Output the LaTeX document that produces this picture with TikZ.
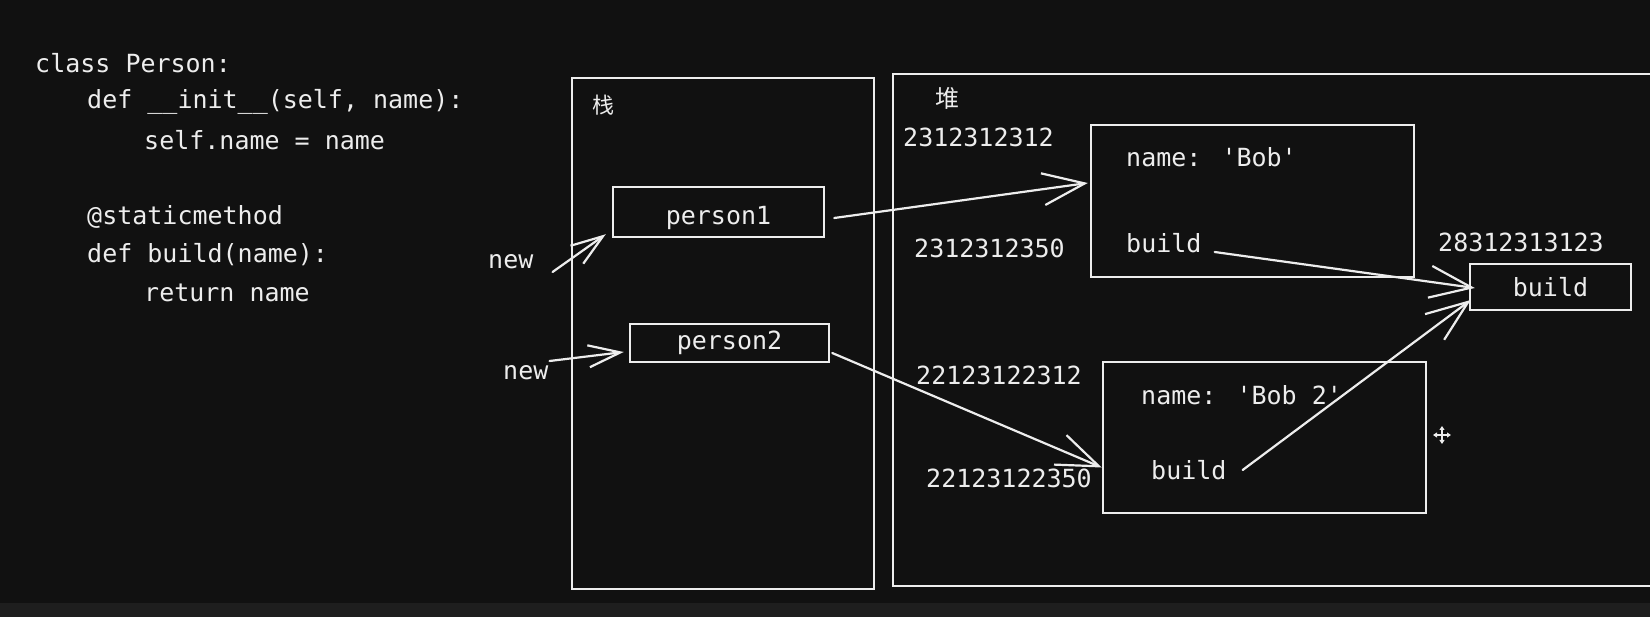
\documentclass[tikz,border=0pt]{standalone}
\usepackage{fontspec}
\setmainfont{DejaVu Sans}
\newfontfamily\codefont{DejaVu Sans Mono}
\newfontfamily\cjk{Noto Sans CJK SC}
\usetikzlibrary{arrows.meta}
\definecolor{bg}{HTML}{111111}
\definecolor{ink}{HTML}{EDEDED}
\definecolor{strip}{HTML}{1E1E1E}
\begin{document}
\begin{tikzpicture}[x=1pt,y=-1pt,
  txt/.style={font=\codefont\fontsize{25}{25}\selectfont, text=ink, inner sep=0pt, anchor=west},
  cjklbl/.style={font=\cjk\fontsize{22}{22}\selectfont, text=ink, inner sep=0pt},
  obox/.style={draw=ink, line width=2.5pt},
  framebox/.style={draw=ink, line width=2.5pt},
  bigarr/.style={draw=ink, line width=2.2pt, line cap=round, -{Straight Barb[length=42pt,width=32pt]}},
  newarr/.style={draw=ink, line width=2.2pt, line cap=round, -{Straight Barb[length=32pt,width=22pt]}}
]
\fill[bg] (0,0) rectangle (1650,617);
\path[use as bounding box] (0,0) rectangle (1650,617);
\fill[strip] (0,603) rectangle (1650,617);

% code
\node[txt] (c1) at (35,63) {class Person:};
\node[txt] (c2) at (87,102) {def \_\_init\_\_(self, name):};
\node[txt] (c3) at (144,140) {self.name = name};
\node[txt] (c4) at (87,217) {@staticmethod};
\node[txt] (c5) at (87,255) {def build(name):};
\node[txt] (c6) at (144,293) {return name};

% stack and heap frames
\draw[framebox] (572,78) rectangle (874,589);
\node[cjklbl] (zhan) at (603,105) {栈};
\draw[framebox] (1660,74) -- (893,74) -- (893,586) -- (1660,586);
\node[cjklbl, font=\cjk\fontsize{24}{24}\selectfont] (dui) at (947,98) {堆};

% stack variables
\node[obox, txt, anchor=center, minimum width=211pt, minimum height=50pt, text height=25pt, text depth=0pt] (p1) at (718.5,212) {person1};
\node[obox, txt, anchor=center, minimum width=199pt, minimum height=38pt] (p2) at (729.5,343) {person2};
\node[txt] (n1) at (488,262) {new};
\node[txt] (n2) at (503,373) {new};

% heap objects
\node[obox, minimum width=323pt, minimum height=152pt] (o1) at (1252.5,201) {};
\node[txt] (o1name) at (1126,157) {name: 'Bob'};
\node[txt] (o1build) at (1126,243) {build};
\node[txt] (a1) at (903,137) {2312312312};
\node[txt] (a2) at (914,248) {2312312350};

\node[obox, minimum width=323pt, minimum height=151pt] (o2) at (1264.5,437.5) {};
\node[txt] (o2name) at (1141,395) {name: 'Bob 2'};
\node[txt] (o2build) at (1151,470) {build};
\node[txt] (a3) at (916,375) {22123122312};
\node[txt] (a4) at (926,478) {22123122350};

\node[obox, txt, anchor=center, minimum width=161pt, minimum height=46pt] (bb) at (1550.5,287) {build};
\node[txt] (a5) at (1438,242) {28312313123};

% arrows
\draw[newarr] ([shift={(19,10)}]n1.east) -- ([shift={(-6,-4)}]p1.south west);
\draw[newarr] ([shift={(1,-12)}]n2.east) -- ([shift={(-5,9)}]p2.west);
\draw[bigarr] ([shift={(9,6)}]p1.east) -- ([shift={(-2,-18)}]o1.west);
\draw[bigarr] ([shift={(2,10)}]p2.east) -- ([shift={(0,30)}]o2.west);
\draw[bigarr] ([shift={(13,9)}]o1build.east) -- ([shift={(6,1)}]bb.west);
\draw[bigarr] ([shift={(16,0)}]o2build.east) -- ([shift={(2,13)}]bb.west);

% cursor icon
\coordinate (cur) at (1442,435);
\draw[ink, line width=1.4pt, {Triangle[length=4pt,width=5pt]}-{Triangle[length=4pt,width=5pt]}] ([xshift=-9pt]cur) -- ([xshift=9pt]cur);
\draw[ink, line width=1.4pt, {Triangle[length=4pt,width=5pt]}-{Triangle[length=4pt,width=5pt]}] ([yshift=-9pt]cur) -- ([yshift=9pt]cur);
\end{tikzpicture}
\end{document}
